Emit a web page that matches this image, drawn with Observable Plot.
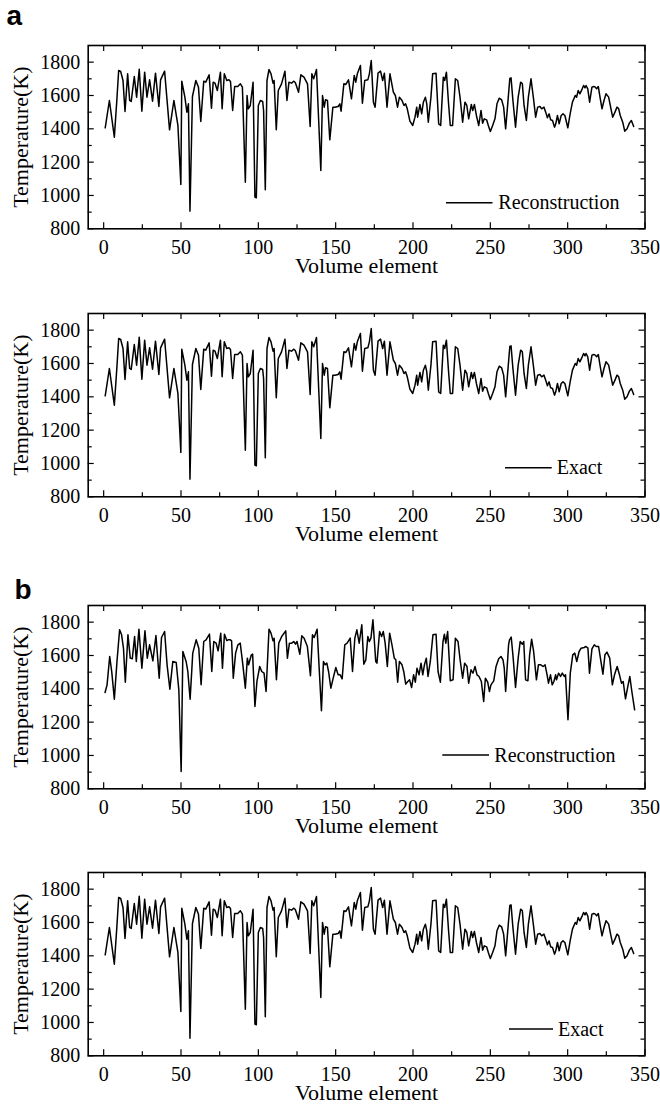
<!DOCTYPE html>
<html><head><meta charset="utf-8">
<script src="https://cdn.jsdelivr.net/npm/d3@7"></script>
<script src="https://cdn.jsdelivr.net/npm/@observablehq/plot@0.6"></script>
<style>
html,body{margin:0;padding:0;background:#fff;}
#wrap{position:relative;width:660px;height:1113px;overflow:hidden;background:#fff;}
.panel{position:absolute;left:0;}
#overlay{position:absolute;left:0;top:0;pointer-events:none;}
</style></head><body><div id="wrap"></div>
<script>
// ---- axis ticks ----
const xMajor = [0,50,100,150,200,250,300,350];
const xMinor = [25,75,125,175,225,275,325];
const yMajor = [800,1000,1200,1400,1600,1800];
const yMinor = [900,1100,1300,1500,1700];

// ---- exact temperature field (volume element, K) ----
const exactX = [1,3.7,6.9,8.5,9.7,11,12.5,13.8,15.5,16.8,17.8,19.8,21.3,23,24.7,26.5,28,29.7,31.6,33.5,35.7,36.8,39.4,42.6,45.4,48,49.9,50.5,52.5,53.8,54.8,55.8,57.4,59.6,61.3,62.8,64.7,66,68.2,69.7,70.8,72,73.5,75.5,76.6,78,79.6,81,82,83.4,84.7,86.7,88.4,89.7,91.6,92.7,93.5,94.8,96.6,97.8,98.7,100,101.3,102.8,103.4,104.5,105.6,106.9,108.2,109.5,110.2,111.6,112.9,115,117.2,118.5,119.8,121.5,122.8,123.9,126,127.5,129.5,131.8,133.5,134.6,135.8,137.6,140.4,141.5,142.6,143.4,144.7,146.2,148.2,149.5,151.6,152.7,153.5,155.3,156.6,158.3,160.2,162,163,164,166,167.3,168.8,170.8,171.8,173,174.4,175.5,177.4,179,180.4,181.5,183.2,185.1,187.3,188.6,190,191.2,192.9,194.2,195.2,196.3,198,199.8,201.3,202.4,203,204.5,205.6,206.7,208,208.9,209.9,211.6,212.7,214.9,216.6,217.9,219.6,220.5,221.6,223,224.1,225.6,227.4,228.9,230.4,232.1,233.6,234.8,236,237.7,238.6,239.7,241,242.5,244,245,246.1,247.6,248.7,250,251.5,253,254.3,255.8,257.3,258.6,259.9,261,262.6,263.4,264.6,266.3,268,269.6,270.7,271.8,273.3,274.6,276.3,277.8,279.3,280.6,282.1,283.2,284.7,285.8,286.9,288,289,290.2,291.5,292.3,293.4,294.5,295.8,297,298.2,300.1,301.6,303.1,304.9,305.8,306.8,307.9,309.4,310.3,311.2,311.9,313,314.2,315.7,316.8,317.9,318.7,319.8,321.1,322.2,323.5,324.8,326.5,328,329.1,330.6,331.9,333,334,335.6,336.9,338.4,339.9,341.2,342.7];
const exactT = [1406,1570,1350,1570,1750,1744,1690,1504,1730,1570,1564,1714,1590,1758,1506,1740,1590,1694,1566,1734,1534,1694,1746,1394,1570,1420,1066,1686,1590,1500,1550,906,1594,1690,1650,1444,1686,1680,1724,1524,1680,1674,1630,1740,1520,1730,1690,1694,1684,1510,1654,1654,1670,1650,1080,1600,1520,1540,1680,990,986,1540,1570,1564,1510,1034,1690,1756,1730,1674,1690,1394,1630,1670,1746,1570,1680,1674,1686,1678,1620,1724,1710,1670,1414,1730,1700,1756,1150,1600,1530,1574,1570,1334,1530,1530,1534,1550,1506,1670,1666,1694,1580,1720,1680,1730,1780,1554,1690,1694,1730,1810,1560,1530,1734,1746,1690,1734,1530,1730,1620,1600,1530,1590,1570,1540,1550,1520,1446,1420,1470,1530,1470,1546,1490,1560,1590,1550,1440,1590,1730,1734,1430,1420,1710,1690,1740,1550,1420,1420,1700,1690,1590,1440,1560,1540,1460,1546,1510,1546,1480,1420,1510,1434,1460,1454,1420,1384,1420,1460,1550,1584,1574,1530,1400,1520,1702,1706,1570,1410,1590,1680,1670,1540,1450,1590,1700,1590,1470,1530,1534,1520,1530,1500,1466,1490,1454,1450,1410,1430,1480,1430,1480,1490,1480,1406,1490,1560,1600,1590,1630,1610,1640,1660,1646,1660,1640,1560,1650,1654,1650,1640,1654,1580,1520,1570,1610,1590,1520,1470,1500,1530,1520,1480,1440,1386,1400,1434,1450,1414];

// ---- reconstruction (case a): indistinguishable from the exact field at this scale ----
const reconAX = exactX.slice();
const reconAT = exactT.slice();

// ---- reconstruction (case b) ----
const reconBX = [0.9,2.2,3.9,5.2,6.9,8.6,10.3,11.6,12.8,14,15.7,17.2,18.5,20,21.1,22.8,24.7,26.7,28.2,29.7,31.8,33.8,35.9,37.4,39.4,41,42.8,44.7,46.9,48.6,50.1,51.2,53.3,54.4,55.9,57.6,59.8,61.5,63,64.7,66.2,68.4,69.9,71.2,72.7,74,75.7,76.8,78.1,79.6,80.5,81.9,82.7,83.8,85.3,86.8,88.3,90,91.6,92.9,93.7,95.5,96.3,97.8,99.1,100.9,102.2,103.7,105,106.9,108.2,109.5,110.2,111.7,113.2,115.1,117.7,118.8,120.1,121.6,122.9,124,125,126.8,128.1,129.6,131.7,133.7,135,136.1,138,140.8,142.1,143.2,144.3,145.4,146.9,148.4,150.1,151.6,152.9,154.2,155.9,157.4,159.4,160.9,162.4,163.7,165.2,166.9,168.2,169.5,170.8,171.8,172.8,174.1,175.9,176.7,178.4,179.7,180.8,182,183.4,184.9,186.4,187.9,188.9,190.1,191.2,192.9,194,195.3,196.6,197.8,199.1,200.4,201.5,202.6,203.9,205.2,206.3,207.4,208.6,209.7,211.2,212.9,214.9,216.2,217.7,219.4,220.3,221.2,222.4,223.5,224.1,225.9,227.4,229.1,230.6,232.1,233.4,234.9,236,237.5,238.8,240.1,241.4,242.7,244.2,245.7,246.8,248.3,249.4,250.4,252.2,253.7,255.4,256.9,258.2,259,259.9,261.8,262.4,263.5,264.6,266.3,268,269.3,270.7,271.6,272.8,274.3,275.4,276.7,278,279.8,281.1,282.6,284.1,285.4,286.7,287.6,288.9,290,291.1,292.2,292.8,294.1,295.4,296.5,297.8,298.6,300.2,301.7,303.3,304.6,305.9,307.4,308.7,310.7,311.8,313.1,314.1,315.7,317.2,318.5,320,321.5,322.8,324.1,325.4,327.2,328.9,330.4,332,333.5,334.8,335.9,337.4,338.9,340.2,341.5,343.3];
const reconBT = [1378,1424,1594,1504,1338,1564,1754,1724,1644,1440,1724,1584,1580,1714,1564,1758,1524,1748,1584,1664,1568,1720,1464,1708,1744,1544,1398,1564,1558,1394,904,1624,1564,1504,1338,1614,1694,1644,1424,1684,1694,1728,1504,1684,1674,1628,1734,1524,1728,1690,1694,1694,1688,1464,1614,1664,1674,1544,1404,1584,1544,1604,1608,1294,1444,1534,1504,1494,1384,1758,1734,1688,1704,1454,1674,1714,1748,1584,1674,1674,1684,1668,1684,1608,1718,1704,1654,1478,1724,1708,1758,1268,1564,1544,1554,1504,1404,1464,1528,1484,1484,1460,1664,1674,1704,1504,1704,1754,1674,1784,1548,1574,1714,1684,1704,1814,1564,1554,1744,1714,1744,1674,1534,1734,1664,1584,1574,1440,1564,1544,1504,1428,1444,1454,1408,1484,1440,1524,1484,1554,1484,1544,1584,1474,1564,1724,1728,1504,1440,1684,1728,1674,1744,1564,1448,1454,1704,1684,1564,1464,1554,1534,1434,1514,1494,1534,1484,1474,1444,1324,1464,1440,1384,1424,1448,1534,1580,1594,1574,1524,1384,1664,1694,1710,1604,1408,1584,1684,1668,1684,1454,1448,1604,1698,1624,1454,1544,1544,1534,1544,1484,1434,1484,1424,1444,1484,1454,1494,1474,1494,1474,1484,1214,1494,1604,1614,1564,1624,1644,1648,1654,1644,1494,1640,1664,1654,1654,1564,1488,1604,1620,1584,1424,1488,1534,1484,1434,1444,1340,1414,1474,1384,1274];

// ---- layout ----
const SERIF = "'Liberation Serif','Times New Roman',Times,serif";
const SANS = "'Liberation Sans',Arial,Helvetica,sans-serif";
const W = 660, ML = 87.7, MR = 15.5, MT = 10, MB = 62, H = 183.3;
const FW = W - ML - MR;

const panels = [
  {tag:"a", tagX:6.5, tagY:25, top:45,    xs:reconAX, ts:reconAT, legend:"Reconstruction", lx1:446, lx2:492.5, ly:202.7, tx:498.3, tb:209.3},
  {tag:null,            top:313.3, xs:exactX,  ts:exactT,  legend:"Exact",          lx1:505, lx2:551.7, ly:467.7, tx:556.7, tb:474.3},
  {tag:"b", tagX:14.5, tagY:599, top:605, xs:reconBX, ts:reconBT, legend:"Reconstruction", lx1:442.3, lx2:489, ly:755, tx:494.3, tb:761.7},
  {tag:null,            top:871.7, xs:exactX,  ts:exactT,  legend:"Exact",          lx1:509, lx2:553, ly:1029, tx:558, tb:1035.5}
];

const wrap = document.getElementById("wrap");
const plain = d => String(d);

for (const p of panels) {
  const data = p.xs.map((x, i) => ({x, t: p.ts[i]}));
  const chart = Plot.plot({
    width: W, height: MT + H + MB,
    marginTop: MT, marginBottom: MB, marginLeft: ML, marginRight: MR,
    x: {domain: [-10, 350], axis: null},
    y: {domain: [800, 1900], axis: null},
    style: {fontFamily: SERIF, fontSize: "20px", color: "black", background: "white", overflow: "visible"},
    marks: [
      Plot.line(data, {x: "x", y: "t", stroke: "black", strokeWidth: 1.5, strokeLinejoin: "round"}),
      // inward ticks on all four sides
      Plot.tickX(xMajor, {x: d => d, insetTop: H - 6, stroke: "black", strokeWidth: 1.2}),
      Plot.tickX(xMajor, {x: d => d, insetBottom: H - 6, stroke: "black", strokeWidth: 1.2}),
      Plot.tickX(xMinor, {x: d => d, insetTop: H - 4, stroke: "black", strokeWidth: 1.2}),
      Plot.tickX(xMinor, {x: d => d, insetBottom: H - 4, stroke: "black", strokeWidth: 1.2}),
      Plot.tickY(yMajor, {y: d => d, insetRight: FW - 6, stroke: "black", strokeWidth: 1.2}),
      Plot.tickY(yMajor, {y: d => d, insetLeft: FW - 6, stroke: "black", strokeWidth: 1.2}),
      Plot.tickY(yMinor, {y: d => d, insetRight: FW - 4, stroke: "black", strokeWidth: 1.2}),
      Plot.tickY(yMinor, {y: d => d, insetLeft: FW - 4, stroke: "black", strokeWidth: 1.2}),
      Plot.frame({stroke: "black", strokeWidth: 1.6}),
      // tick labels (serif)
      Plot.text(xMajor, {x: d => d, text: plain, frameAnchor: "bottom", lineAnchor: "top", dy: 11, fontSize: 20, fontFamily: SERIF, fill: "black"}),
      Plot.text(yMajor, {y: d => d, text: plain, frameAnchor: "left", textAnchor: "end", dx: -8, fontSize: 20, fontFamily: SERIF, fill: "black"}),
      // axis titles
      Plot.text(["Volume element"], {frameAnchor: "bottom", dy: 44, textAnchor: "middle", fontSize: 22, fontFamily: SERIF, fill: "black"}),
      Plot.text(["Temperature(K)"], {frameAnchor: "left", dx: -67, rotate: -90, textAnchor: "middle", fontSize: 22, fontFamily: SERIF, fill: "black"})
    ]
  });
  chart.classList.add("panel");
  chart.style.top = (p.top - MT) + "px";
  wrap.appendChild(chart);
}

// overlay: panel tags and legends
const ov = d3.select(wrap).append("svg").attr("id", "overlay").attr("width", W).attr("height", 1113);
for (const p of panels) {
  if (p.tag) {
    ov.append("text").attr("x", p.tagX).attr("y", p.tagY).attr("font-family", SANS)
      .attr("font-weight", "bold").attr("font-size", 28).text(p.tag);
  }
  ov.append("line").attr("x1", p.lx1).attr("x2", p.lx2).attr("y1", p.ly).attr("y2", p.ly)
    .attr("stroke", "black").attr("stroke-width", 1.4);
  ov.append("text").attr("x", p.tx).attr("y", p.tb).attr("font-family", SERIF)
    .attr("font-size", 20).text(p.legend);
}
</script></body></html>
